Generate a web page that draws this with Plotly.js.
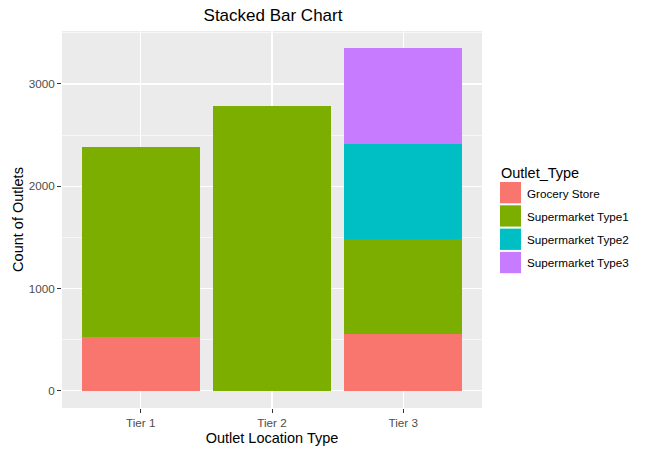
<!DOCTYPE html>
<html>
<head>
<meta charset="utf-8">
<script src="https://cdn.plot.ly/plotly-3.0.1.min.js"></script>
<style>html,body{margin:0;padding:0;background:#fff;}#chart{width:657px;height:453px;}</style>
</head>
<body>
<div id="chart"></div>
<script>
// Data
const tiers = ["Tier 1", "Tier 2", "Tier 3"];
const outletTypes = ["Grocery Store", "Supermarket Type1", "Supermarket Type2", "Supermarket Type3"];
const groceryStore = [528, null, 555];
const supermarketType1 = [1860, 2785, 932];
const supermarketType2 = [null, null, 928];
const supermarketType3 = [null, null, 935];
const seriesColors = ["#F8766D", "#7CAE00", "#00BFC4", "#C77CFF"];

const seriesValues = [groceryStore, supermarketType1, supermarketType2, supermarketType3];

const W = 657, H = 453;
const M = {l: 62, r: 175, t: 31, b: 45};
const pw = W - M.l - M.r, ph = H - M.t - M.b;
const px2x = x => (x - M.l) / pw;
const px2y = y => (H - M.b - y) / ph;

const traces = outletTypes.map((name, i) => ({
  type: "bar",
  name: name,
  x: tiers,
  y: seriesValues[i],
  marker: {color: seriesColors[i], line: {width: 0}},
  width: 0.9,
  showlegend: false,
  hoverinfo: "x+y+name"
}));

// Custom ggplot-like legend
const shapes = [];
const annotations = [];
annotations.push({
  xref: "paper", yref: "paper", x: px2x(499), y: px2y(173),
  xanchor: "left", yanchor: "middle", showarrow: false,
  text: "Outlet_Type", font: {family: "Liberation Sans, Arial, sans-serif", size: 14.5, color: "#000"}
});
outletTypes.forEach((name, i) => {
  const top = 182 + i * 23.3;
  shapes.push({
    type: "rect", xref: "paper", yref: "paper",
    x0: px2x(500), x1: px2x(521), y0: px2y(top + 21.3), y1: px2y(top),
    fillcolor: seriesColors[i], line: {width: 0}
  });
  annotations.push({
    xref: "paper", yref: "paper", x: px2x(525), y: px2y(top + 11),
    xanchor: "left", yanchor: "middle", showarrow: false,
    text: name, font: {family: "Liberation Sans, Arial, sans-serif", size: 11.7, color: "#000"}
  });
});

const layout = {
  width: W, height: H,
  margin: M,
  paper_bgcolor: "#ffffff",
  plot_bgcolor: "#EBEBEB",
  barmode: "stack",
  font: {family: "Liberation Sans, Arial, sans-serif", color: "#000"},
  title: {
    text: "Stacked Bar Chart",
    x: px2x(273) * pw / W + M.l / W, xanchor: "center",
    y: 1 - 15 / H, yanchor: "middle",
    font: {size: 17, color: "#000"}
  },
  xaxis: {
    type: "category",
    range: [-0.6, 2.6],
    showgrid: true, gridcolor: "#ffffff", gridwidth: 1.2,
    ticks: "outside", ticklen: 4, tickcolor: "#333333", tickwidth: 1,
    tickfont: {size: 11.7, color: "#4D4D4D"},
    showline: false, zeroline: false,
    title: {text: "Outlet Location Type", font: {size: 14.5, color: "#000"}, standoff: 4}
  },
  yaxis: {
    range: [-167.5, 3517.5],
    tickvals: [0, 1000, 2000, 3000],
    ticktext: ["0", "1000", "2000", "3000"],
    showgrid: true, gridcolor: "#ffffff", gridwidth: 1.2,
    minor: {tickvals: [500, 1500, 2500, 3500], showgrid: true, gridcolor: "#ffffff", gridwidth: 0.6, ticks: ""},
    ticks: "outside", ticklen: 4, tickcolor: "#333333", tickwidth: 1,
    tickfont: {size: 11.7, color: "#4D4D4D"},
    showline: false, zeroline: false,
    title: {text: "Count of Outlets", font: {size: 14.5, color: "#000"}, standoff: 1}
  },
  shapes: shapes,
  annotations: annotations,
  showlegend: false
};

Plotly.newPlot("chart", traces, layout, {displayModeBar: false, staticPlot: true});
</script>
</body>
</html>
